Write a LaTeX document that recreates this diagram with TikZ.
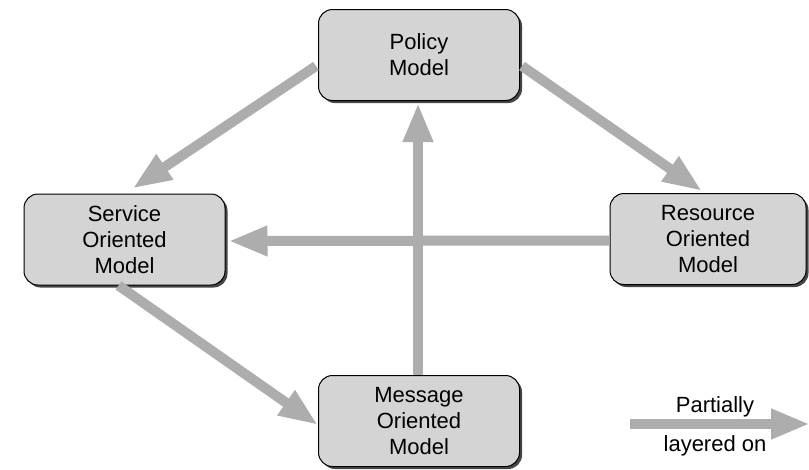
\documentclass[tikz,border=0pt]{standalone}
\usepackage{fontspec}
\setmainfont{Liberation Sans}
\usetikzlibrary{arrows.meta,shadows}
\definecolor{boxgray}{RGB}{212,212,212}
\definecolor{shadowgray}{RGB}{70,70,70}
\definecolor{arrowgray}{RGB}{173,173,173}
\begin{document}
\begin{tikzpicture}[x=1pt,y=-1pt,
  box/.style={draw=black, line width=1pt, fill=boxgray, rounded corners=14pt,
    minimum width=201pt, minimum height=91pt, inner sep=0pt, align=center,
    font=\fontsize{22}{26}\selectfont,
    general shadow={fill=shadowgray, shadow xshift=2.5pt, shadow yshift=-2.5pt}},
  conn/.style={draw=arrowgray, line width=10pt, -{Triangle[width=28pt,length=39pt]}},
  lbl/.style={font=\fontsize{22}{26}\selectfont, anchor=base, inner sep=0pt}]
\useasboundingbox (0,0) rectangle (809,469);
\node[box] (pol) at (419,55) {Policy\\Model};
\node[box] (svc) at (124.5,239.5) {Service\\Oriented\\Model};
\node[box, minimum width=196pt] (res) at (708,239) {Resource\\Oriented\\Model};
\node[box] (msg) at (419,421) {Message\\Oriented\\Model};
\draw[conn] ([xshift=-2pt,yshift=-11pt]pol.west) -- ([xshift=8pt,yshift=5pt]svc.north);
\draw[conn] ([xshift=2pt,yshift=-11pt]pol.east) -- ([xshift=-6pt,yshift=2pt]res.north);
\draw[conn] ([yshift=-1.5pt]res.west) -- ([xshift=3pt,yshift=-1.5pt]svc.east);
\draw[conn] ([xshift=-1pt]msg.north) -- ([xshift=-1pt,yshift=-2pt]pol.south);
\draw[conn] ([xshift=-6pt]svc.south) -- ([yshift=-4pt]msg.west);
\coordinate (l1) at (630,424);
\coordinate (l2) at (810,424);
\draw[conn] (l1) -- (l2);
\node[lbl] (lt) at (715,412) {Partially};
\node[lbl] (lb) at (715,451) {layered on};
\end{tikzpicture}
\end{document}
